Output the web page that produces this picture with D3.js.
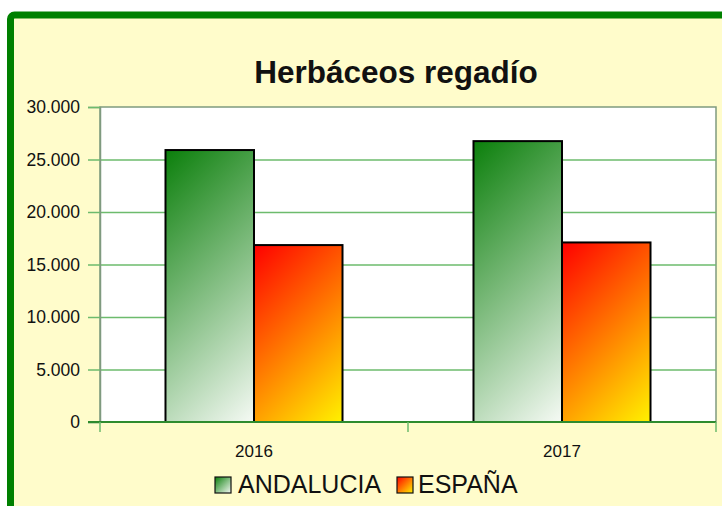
<!DOCTYPE html>
<html>
<head>
  <meta charset="utf-8">
  <title>Herbáceos regadío</title>
  <script src="https://d3js.org/d3.v7.min.js"></script>
  <style>
    body { margin: 0; background: #fff; }
    text { font-family: "Liberation Sans", Arial, sans-serif; fill: #111; }
  </style>
</head>
<body>
  <div id="chart"></div>

  <script>
    const years = ["2016", "2017"];
    const series = ["ANDALUCIA", "ESPAÑA"];
    const andalucia = [25900, 26750];
    const espana = [16850, 17100];
    const yTicks = [0, 5000, 10000, 15000, 20000, 25000, 30000];

    const data = years.map((y, i) => ({ year: y, ANDALUCIA: andalucia[i], "ESPAÑA": espana[i] }));

    const width = 722, height = 506;
    const margin = { top: 107, right: 6, bottom: 84, left: 100 };

    const svg = d3.select("#chart")
      .append("svg")
      .attr("width", width)
      .attr("height", height);

    const colors = {
      "ANDALUCIA": ["#0b7f0b", "#f6faf5"],
      "ESPAÑA": ["#ff0000", "#fff200"]
    };

    // 45 degree gradient (screen space) over a box at (x, y) of size w x h
    const defs = svg.append("defs");
    function makeGrad(id, key, x, y, w, h) {
      const d = (w + h) / 2;
      const lg = defs.append("linearGradient")
        .attr("id", id)
        .attr("gradientUnits", "userSpaceOnUse")
        .attr("x1", x).attr("y1", y)
        .attr("x2", x + d).attr("y2", y + d);
      lg.append("stop").attr("offset", "0%").attr("stop-color", colors[key][0]);
      lg.append("stop").attr("offset", "100%").attr("stop-color", colors[key][1]);
      return "url(#" + id + ")";
    }

    // frame
    svg.append("rect")
      .attr("x", 10.5).attr("y", 15)
      .attr("width", 800).attr("height", 600)
      .attr("rx", 4)
      .attr("fill", "#fffccb")
      .attr("stroke", "#008000")
      .attr("stroke-width", 7);

    const x0 = d3.scaleBand()
      .domain(years)
      .range([margin.left, width - margin.right])
      .padding(0);

    const x1 = d3.scaleBand()
      .domain(series)
      .range([0, x0.bandwidth()])
      .paddingInner(0)
      .paddingOuter(0.74);

    const y = d3.scaleLinear()
      .domain([0, 30000])
      .range([height - margin.bottom, margin.top]);

    const fmt = d3.formatLocale({ decimal: ",", thousands: ".", grouping: [3], currency: ["", "€"] }).format(",.0f");

    // plot background
    svg.append("rect")
      .attr("x", margin.left).attr("y", margin.top)
      .attr("width", width - margin.left - margin.right)
      .attr("height", y(0) - margin.top)
      .attr("fill", "#fff")
      .attr("stroke", "#7f9a7f")
      .attr("stroke-width", 1.5);

    // grid lines
    svg.append("g")
      .attr("transform", "translate(" + margin.left + ",0)")
      .call(d3.axisLeft(y).tickValues(yTicks.slice(1, -1)).tickSize(-(width - margin.left - margin.right)).tickFormat(""))
      .call(g => g.select(".domain").remove())
      .selectAll("line")
      .attr("stroke", "#6dbb6d")
      .attr("stroke-width", 1.5);

    // y axis
    const yAxis = svg.append("g")
      .attr("transform", "translate(" + margin.left + ",0)")
      .call(d3.axisLeft(y).tickValues(yTicks).tickSize(12).tickPadding(8).tickFormat(fmt));
    yAxis.select(".domain").attr("stroke", "#7f9a7f").attr("stroke-width", 1.5);
    yAxis.selectAll("line").attr("stroke", "#6dbb6d").attr("stroke-width", 1.5);
    yAxis.selectAll("text")
      .style("font-family", "Liberation Sans, Arial, sans-serif")
      .style("font-size", "17.5px")
      .attr("fill", "#111");

    // bars
    svg.append("g")
      .selectAll("g")
      .data(data)
      .enter()
      .append("g")
      .attr("transform", d => "translate(" + x0(d.year) + ",0)")
      .selectAll("rect")
      .data(d => series.map((s, j) => ({ key: s, value: d[s], id: "g" + d.year + "_" + j })))
      .enter()
      .append("rect")
      .attr("x", d => x1(d.key))
      .attr("y", d => y(d.value))
      .attr("width", x1.bandwidth())
      .attr("height", d => y(0) - y(d.value))
      .attr("fill", d => makeGrad(d.id, d.key, x1(d.key), y(d.value), x1.bandwidth(), y(0) - y(d.value)))
      .attr("stroke", "#000")
      .attr("stroke-width", 2);

    // x axis
    const xg = svg.append("g");
    xg.append("line")
      .attr("x1", margin.left - 12).attr("x2", width - margin.right)
      .attr("y1", y(0)).attr("y2", y(0))
      .attr("stroke", "#2e8b2e").attr("stroke-width", 2);
    const edges = years.map(d => x0(d)).concat([x0(years[years.length - 1]) + x0.bandwidth()]);
    xg.selectAll(".xtick")
      .data(edges)
      .enter()
      .append("line")
      .attr("class", "xtick")
      .attr("x1", d => d).attr("x2", d => d)
      .attr("y1", y(0)).attr("y2", y(0) + 10)
      .attr("stroke", "#6dbb6d").attr("stroke-width", 1.5);
    xg.selectAll(".xlabel")
      .data(years)
      .enter()
      .append("text")
      .attr("class", "xlabel")
      .attr("x", d => x0(d) + x0.bandwidth() / 2)
      .attr("y", 457)
      .attr("text-anchor", "middle")
      .style("font-size", "17px")
      .text(d => d);

    // title
    svg.append("text")
      .attr("x", 396)
      .attr("y", 83)
      .attr("text-anchor", "middle")
      .style("font-size", "31.5px")
      .style("font-weight", "bold")
      .text("Herbáceos regadío");

    // legend
    const legendX = [215, 397];
    const leg = svg.append("g")
      .selectAll("g")
      .data(series)
      .enter()
      .append("g")
      .attr("transform", (d, i) => "translate(" + legendX[i] + ",477)");
    leg.append("rect")
      .attr("width", 16).attr("height", 16)
      .attr("fill", (d, i) => makeGrad("gl" + i, d, 0, 0, 16, 16))
      .attr("stroke", "#111")
      .attr("stroke-width", 1.2);
    leg.append("text")
      .attr("x", (d, i) => i === 0 ? 23 : 21)
      .attr("y", 16)
      .style("font-size", "25px")
      .text(d => d);
  </script>
</body>
</html>
